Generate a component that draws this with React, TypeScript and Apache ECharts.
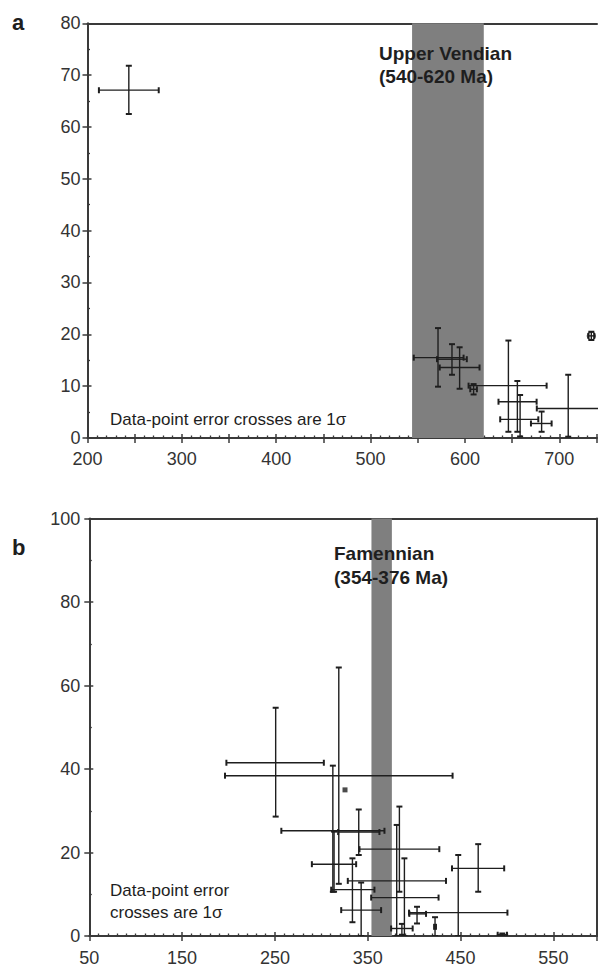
import React, { useEffect, useRef } from "react";
import * as echarts from "echarts";

// ---------- Panel a (Upper Vendian) ----------
const aAge = [243.8, 571.5, 586.3, 594.4, 609.2, 646.1, 655.6, 658.5, 709.5, 681.3, 734];
const aAgeLo = [212.1, 545.8, 570.4, 573.3, 605.7, 603.9, 635.6, 637.4, 676.2, 670.0, 731];
const aAgeHi = [275.5, 598.6, 602.0, 615.5, 612.7, 686.6, 676.0, 677.8, 790, 691.9, 737];
const aVal = [67.1, 15.5, 15.2, 13.6, 9.4, 10.1, 7.0, 3.6, 5.7, 2.8, 19.7];
const aValLo = [62.5, 9.9, 12.2, 9.5, 8.4, 1.2, 1.2, 0.3, 0.25, 1.2, 18.9];
const aValHi = [71.8, 21.2, 18.1, 17.5, 10.4, 18.8, 11.0, 8.3, 12.2, 5.1, 20.5];
const aRingAge = [734];
const aRingVal = [19.7];
const aBand = [544, 620];
const aXTicks = { min: 200, max: 740, step: 50 };
const aYTicks = { min: 0, max: 80, step: 10 };

// ---------- Panel b (Famennian) ----------
const bAge = [250.8, 318.8, 312.4, 340.3, 313.7, 384.1, 381.2, 333.5, 389.5, 342.9, 469.0, 447.5, 403.1, 386.8, 422.5, 495];
const bAgeLo = [197.7, 196.2, 256.9, 318.1, 289.8, 341.1, 328.5, 310.6, 353.7, 321.4, 440.8, 394.5, 394.8, 375.2, 421.5, 490];
const bAgeHi = [302.7, 441.4, 368.0, 362.6, 337.5, 427.1, 434.3, 357.2, 426.3, 364.4, 497.0, 500.5, 412.8, 398.4, 423.5, 500];
const bVal = [41.5, 38.4, 25.2, 24.9, 17.2, 20.8, 13.2, 11.1, 9.2, 6.2, 16.2, 5.6, 5.3, 1.8, 2.2, 0.3];
const bValLo = [28.6, 12.5, 10.6, 19.4, 10.6, 10.6, 0, 3.3, 0, 0, 10.6, 0, 3.0, 0.3, 0, 0];
const bValHi = [54.7, 64.3, 40.8, 30.3, 25.0, 31.0, 26.6, 18.6, 18.6, 12.8, 22.0, 19.4, 7.0, 2.9, 4.5, 0.6];
const bSquareAge = [325.5];
const bSquareVal = [35.0];
const bBand = [354, 376];
const bXTicks = { min: 50, max: 597, step: 100 };
const bYTicks = { min: 0, max: 100, step: 20 };

const FONT = "'Liberation Sans', Arial, Helvetica, sans-serif";
const AX = "#3a3a3a";
const INK = "#1e1e1e";

function crossData(x: number[], xl: number[], xh: number[], y: number[], yl: number[], yh: number[]) {
  return x.map((v, i) => [v, y[i], xl[i], xh[i], yl[i], yh[i]]);
}

function renderCross(_params: any, api: any) {
  const x = api.value(0), y = api.value(1);
  const c = api.coord([x, y]);
  const pl = api.coord([api.value(2), y]);
  const ph = api.coord([api.value(3), y]);
  const pb = api.coord([x, api.value(4)]);
  const pt = api.coord([x, api.value(5)]);
  const cap = 3;
  const style = { stroke: INK, lineWidth: 1.4 };
  const capStyle = { stroke: INK, lineWidth: 2 };
  return {
    type: "group",
    children: [
      { type: "line", shape: { x1: pl[0], y1: c[1], x2: ph[0], y2: c[1] }, style },
      { type: "line", shape: { x1: c[0], y1: pt[1], x2: c[0], y2: pb[1] }, style },
      { type: "line", shape: { x1: pl[0], y1: c[1] - cap, x2: pl[0], y2: c[1] + cap }, style: capStyle },
      { type: "line", shape: { x1: ph[0], y1: c[1] - cap, x2: ph[0], y2: c[1] + cap }, style: capStyle },
      { type: "line", shape: { x1: c[0] - cap, y1: pt[1], x2: c[0] + cap, y2: pt[1] }, style: capStyle },
      { type: "line", shape: { x1: c[0] - cap, y1: pb[1], x2: c[0] + cap, y2: pb[1] }, style: capStyle },
    ],
  };
}

function renderBand(_params: any, api: any) {
  const p1 = api.coord([api.value(0), api.value(3)]);
  const p2 = api.coord([api.value(1), api.value(2)]);
  return {
    type: "rect",
    shape: { x: p1[0], y: p1[1], width: p2[0] - p1[0], height: p2[1] - p1[1] },
    style: { fill: "#7f7f7f" },
  };
}

// outer axis: line, labels and outward major ticks
function valueAxis(gridIndex: number, t: { min: number; max: number; step: number }, labelFmt: (v: number) => string, margin: number, position: string) {
  return {
    type: "value",
    gridIndex,
    position,
    min: t.min,
    max: t.max,
    interval: t.step,
    axisLine: { show: true, onZero: false, lineStyle: { color: AX, width: 2 } },
    axisTick: { show: true, length: 5, lineStyle: { color: AX, width: 1.5 } },
    minorTick: { show: false },
    splitLine: { show: false },
    axisLabel: { color: "#333", fontSize: 18, fontFamily: FONT, margin, formatter: labelFmt, showMaxLabel: true, showMinLabel: true },
  };
}

// inner axis: inward major ticks + minor ticks so that major ticks cross the line
function innerAxis(gridIndex: number, t: { min: number; max: number; step: number }, minorSplit: number, position: string) {
  return {
    type: "value",
    gridIndex,
    position,
    offset: 0,
    min: t.min,
    max: t.max,
    interval: t.step,
    axisLine: { show: false, onZero: false },
    axisTick: { show: true, inside: true, length: 4, lineStyle: { color: AX, width: 1.5 } },
    minorTick: { show: true, splitNumber: minorSplit, length: 2.5, lineStyle: { color: AX, width: 1.3 } },
    splitLine: { show: false },
    axisLabel: { show: false },
  };
}

function borderAxis(gridIndex: number, t: { min: number; max: number }, position: string) {
  return {
    type: "value",
    gridIndex,
    position,
    min: t.min,
    max: t.max,
    axisLine: { show: true, onZero: false, lineStyle: { color: AX, width: 2 } },
    axisTick: { show: false },
    axisLabel: { show: false },
    splitLine: { show: false },
  };
}

function text(x: number, y: number, s: string, font: string, align = "left") {
  return {
    type: "text",
    x,
    y,
    silent: true,
    z: 10,
    style: { text: s, font, fill: INK, textAlign: align, textVerticalAlign: "middle", verticalAlign: "middle" },
  };
}

const option: any = {
  animation: false,
  backgroundColor: "#ffffff",
  grid: [
    { left: 87.5, top: 23.3, width: 511.4, height: 414.7 },
    { left: 89.3, top: 518.5, width: 508.7, height: 417.5 },
  ],
  xAxis: [
    valueAxis(0, aXTicks, (v: number) => (v % 100 === 0 ? String(v) : ""), 12, "bottom"),
    borderAxis(0, aXTicks, "top"),
    valueAxis(1, bXTicks, (v: number) => ((v - 50) % 100 === 0 ? String(v) : ""), 13, "bottom"),
    borderAxis(1, bXTicks, "top"),
    innerAxis(0, aXTicks, 5, "bottom"),
    innerAxis(1, bXTicks, 10, "bottom"),
  ],
  yAxis: [
    valueAxis(0, aYTicks, (v: number) => String(v), 7, "left"),
    valueAxis(1, bYTicks, (v: number) => String(v), 9, "left"),
    borderAxis(1, bYTicks, "right"),
    innerAxis(0, aYTicks, 2, "left"),
    innerAxis(1, bYTicks, 2, "left"),
  ],
  series: [
    {
      type: "custom", xAxisIndex: 0, yAxisIndex: 0, z: 1, silent: true,
      renderItem: renderBand, data: [[aBand[0], aBand[1], aYTicks.min, aYTicks.max]],
    },
    {
      type: "custom", xAxisIndex: 0, yAxisIndex: 0, z: 3, silent: true, clip: true,
      renderItem: renderCross, data: crossData(aAge, aAgeLo, aAgeHi, aVal, aValLo, aValHi),
    },
    {
      type: "scatter", xAxisIndex: 0, yAxisIndex: 0, z: 4, silent: true,
      symbol: "circle", symbolSize: 8,
      itemStyle: { color: "rgba(0,0,0,0)", borderColor: INK, borderWidth: 1.3 },
      data: aRingAge.map((v, i) => [v, aRingVal[i]]),
    },
    {
      type: "custom", xAxisIndex: 2, yAxisIndex: 1, z: 1, silent: true,
      renderItem: renderBand, data: [[bBand[0], bBand[1], bYTicks.min, bYTicks.max]],
    },
    {
      type: "custom", xAxisIndex: 2, yAxisIndex: 1, z: 3, silent: true, clip: true,
      renderItem: renderCross, data: crossData(bAge, bAgeLo, bAgeHi, bVal, bValLo, bValHi),
    },
    {
      type: "scatter", xAxisIndex: 2, yAxisIndex: 1, z: 4, silent: true,
      symbol: "rect", symbolSize: 5, itemStyle: { color: INK },
      data: bSquareAge.map((v, i) => [v, bSquareVal[i]]),
    },
  ],
  graphic: [
    text(12, 22, "a", `bold 22px ${FONT}`),
    text(379, 53, "Upper Vendian", `bold 19px ${FONT}`),
    text(379, 76, "(540-620 Ma)", `bold 19px ${FONT}`),
    text(110, 419, "Data-point error crosses are 1σ", `17px ${FONT}`),
    text(12, 547, "b", `bold 22px ${FONT}`),
    text(334, 553, "Famennian", `bold 19px ${FONT}`),
    text(334, 577, "(354-376 Ma)", `bold 19px ${FONT}`),
    text(110, 890, "Data-point error", `17px ${FONT}`),
    text(110, 912, "crosses are 1σ", `17px ${FONT}`),
  ],
};

export default function App() {
  const ref = useRef<HTMLDivElement>(null);
  useEffect(() => {
    if (!ref.current) return;
    const chart = echarts.init(ref.current, null, { renderer: "svg" });
    chart.setOption(option);
    return () => chart.dispose();
  }, []);
  return (
    <div
      ref={ref}
      style={{ position: "absolute", left: 0, top: 0, width: 600, height: 967, background: "#fff" }}
    />
  );
}
